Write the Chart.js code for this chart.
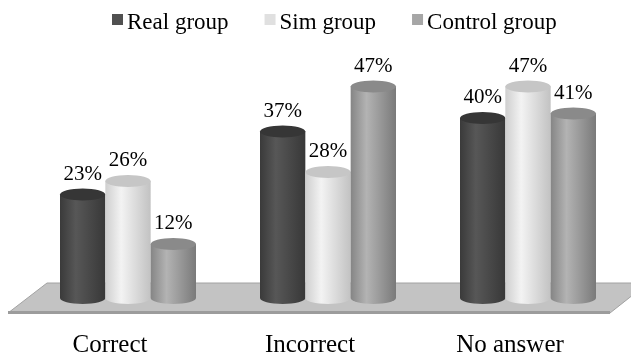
<!DOCTYPE html>
<html>
<head>
<meta charset="utf-8">
<script src="https://cdn.jsdelivr.net/npm/chart.js@4/dist/chart.umd.min.js"></script>
</head>
<body style="margin:0">
<canvas id="chart" width="631" height="360"></canvas>
<script>
// data
var categories = ['Correct', 'Incorrect', 'No answer'];
var seriesNames = ['Real group', 'Sim group', 'Control group'];
var realGroup = [23, 37, 40];
var simGroup = [26, 28, 47];
var controlGroup = [12, 47, 41];

// shading for each cylinder: [left, highlight, right, top, legend box]
var shades = [
    ['#3a3a3a', '#575757', '#383838', '#363636', '#505050'],
    ['#cfcfcf', '#f3f3f3', '#c2c2c2', '#c6c6c6', '#e0e0e0'],
    ['#858585', '#b3b3b3', '#7a7a7a', '#8a8a8a', '#a6a6a6']
];

var floorPlugin = {
    id: 'floor',
    beforeDatasetsDraw: function (chart) {
        var ctx = chart.ctx, a = chart.chartArea;
        var top = a.bottom - 15, bot = a.bottom + 15;
        ctx.save();
        ctx.beginPath();
        ctx.moveTo(a.left + 19, top);
        ctx.lineTo(a.right + 20, top);
        ctx.lineTo(a.right - 18, bot);
        ctx.lineTo(a.left - 20, bot);
        ctx.closePath();
        ctx.fillStyle = '#c3c3c3';
        ctx.fill();
        ctx.strokeStyle = '#a2a2a2';
        ctx.lineWidth = 1;
        ctx.stroke();
        // front edge of the slab
        ctx.fillStyle = '#9c9c9c';
        ctx.fillRect(a.left - 20, bot - 2, a.right - a.left + 2, 3);
        ctx.restore();
    }
};

var cylinderPlugin = {
    id: 'cylinders',
    afterDatasetsDraw: function (chart) {
        var ctx = chart.ctx;
        ctx.save();
        chart.data.datasets.forEach(function (ds, i) {
            var meta = chart.getDatasetMeta(i);
            var s = shades[i];
            meta.data.forEach(function (bar, j) {
                var p = bar.getProps(['x', 'y', 'base', 'width'], true);
                var rx = p.width / 2, ry = 6;
                var l = p.x - rx, r = p.x + rx;
                var g = ctx.createLinearGradient(l, 0, r, 0);
                g.addColorStop(0, s[0]);
                g.addColorStop(0.35, s[1]);
                g.addColorStop(1, s[2]);
                ctx.beginPath();
                ctx.moveTo(l, p.y);
                ctx.lineTo(l, p.base);
                ctx.ellipse(p.x, p.base, rx, ry, 0, Math.PI, 0, true);
                ctx.lineTo(r, p.y);
                ctx.closePath();
                ctx.fillStyle = g;
                ctx.fill();
                ctx.beginPath();
                ctx.ellipse(p.x, p.y, rx, ry, 0, 0, Math.PI * 2);
                ctx.fillStyle = s[3];
                ctx.fill();
            });
        });
        ctx.restore();
    },
    afterDraw: function (chart) {
        var ctx = chart.ctx;
        ctx.save();
        ctx.fillStyle = '#000';
        ctx.textAlign = 'center';
        ctx.textBaseline = 'alphabetic';
        ctx.font = '21px Liberation Serif';
        chart.data.datasets.forEach(function (ds, i) {
            chart.getDatasetMeta(i).data.forEach(function (bar, j) {
                ctx.fillText(ds.data[j] + '%', bar.x, bar.y - 15);
            });
        });
        // legend
        var x = 112;
        ctx.textAlign = 'left';
        ctx.font = '23px Liberation Serif';
        chart.data.datasets.forEach(function (ds, i) {
            ctx.fillStyle = shades[i][4];
            ctx.fillRect(x, 14, 11, 11);
            ctx.fillStyle = '#000';
            ctx.fillText(ds.label, x + 15, 29);
            x += 15 + ctx.measureText(ds.label).width + 36;
        });
        ctx.restore();
    }
};

var chart = new Chart(document.getElementById('chart'), {
    type: 'bar',
    data: {
        labels: categories,
        datasets: [
            { label: seriesNames[0], data: realGroup },
            { label: seriesNames[1], data: simGroup },
            { label: seriesNames[2], data: controlGroup }
        ]
    },
    options: {
        responsive: false,
        animation: false,
        backgroundColor: 'rgba(0,0,0,0)',
        borderWidth: 0,
        datasets: { bar: { categoryPercentage: 0.68, barPercentage: 1.0 } },
        layout: { padding: { top: 73, left: 28, right: 3, bottom: 0 } },
        plugins: { legend: { display: false }, tooltip: { enabled: false } },
        scales: {
            x: {
                grid: { display: false, drawTicks: false },
                border: { display: false },
                ticks: {
                    color: '#000',
                    font: { family: 'Liberation Serif', size: 25, lineHeight: 1.1 },
                    padding: 34,
                    labelOffset: -18,
                    maxRotation: 0
                },
                afterFit: function (scale) { scale.height = 62; }
            },
            y: {
                display: false,
                min: 0,
                max: 50
            }
        }
    },
    plugins: [floorPlugin, cylinderPlugin]
});
</script>
</body>
</html>
